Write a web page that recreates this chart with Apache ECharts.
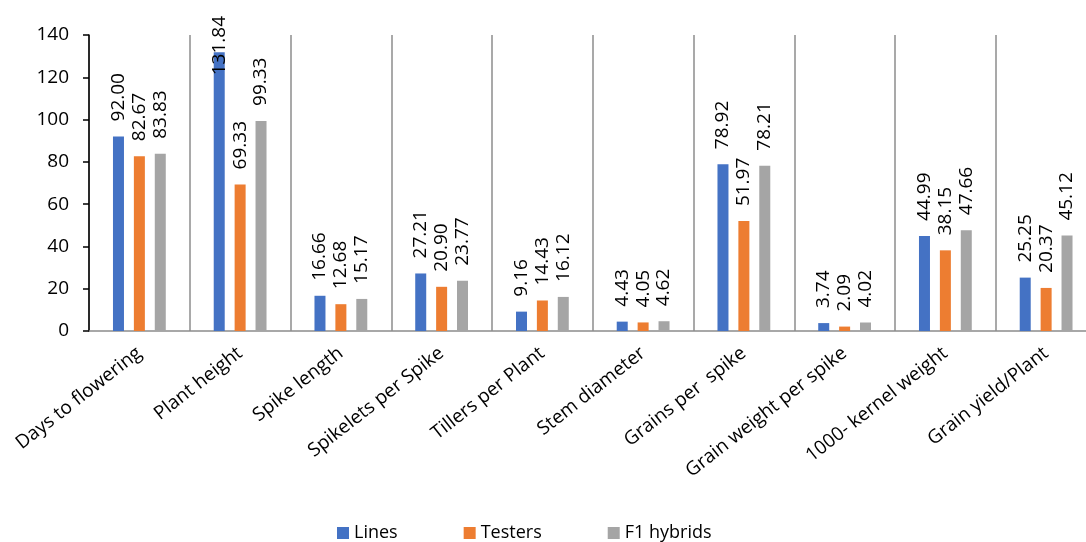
<!DOCTYPE html>
<html>
<head>
<meta charset="utf-8">
<script src="https://cdn.jsdelivr.net/npm/echarts@6/dist/echarts.min.js"></script>
<style>html,body{margin:0;padding:0;background:#fff;overflow:hidden}#c{width:1100px;height:542px}</style>
</head>
<body>
<div id="c"></div>
<script>
const categories = ["Days to flowering","Plant height","Spike length","Spikelets per Spike","Tillers per Plant","Stem diameter","Grains per  spike","Grain weight per spike","1000- kernel weight","Grain yield/Plant"];
const seriesNames = ["Lines","Testers","F1 hybrids"];
const lines = [92.00,131.84,16.66,27.21,9.16,4.43,78.92,3.74,44.99,25.25];
const testers = [82.67,69.33,12.68,20.90,14.43,4.05,51.97,2.09,38.15,20.37];
const hybrids = [83.83,99.33,15.17,23.77,16.12,4.62,78.21,4.02,47.66,45.12];
const yTicks = {min:0, max:140, interval:20};
const colors = ["#4472C4","#ED7D31","#A5A5A5"];

const FONT = "Open Sans";
const chart = echarts.init(document.getElementById('c'));
const baseLabel = {
  show: true, position: 'top', distance: 15, rotate: 90, align: 'left', verticalAlign: 'middle',
  fontFamily: FONT, fontSize: 19, color: '#000',
  formatter: p => p.value.toFixed(2)
};
function mk(vals){
  // the tallest bar's label is pulled down to fit inside the chart, as in the reference
  return vals.map(v => v > 130 ? {value: v, label: {position: [5.5, 23]}} : v);
}
const data = [lines, testers, hybrids];
chart.setOption({
  animation: false,
  grid: {left: 89, top: 35, width: 1007.5, height: 296, containLabel: false},
  legend: {
    data: seriesNames, left: 337, top: 524, padding: 0, itemWidth: 12, itemHeight: 12, itemGap: 66,
    icon: 'rect', textStyle: {fontFamily: FONT, fontSize: 18, color: '#000'}
  },
  xAxis: {
    type: 'category', data: categories, boundaryGap: true,
    axisLine: {lineStyle: {color: '#8c8c8c', width: 1.5}},
    axisTick: {show: false},
    splitLine: {show: true, interval: 0, lineStyle: {color: '#8c8c8c', width: 1.5}},
    axisLabel: {interval: 0, rotate: 38, margin: 20, fontFamily: FONT, fontSize: 19, color: '#000'}
  },
  yAxis: {
    type: 'value', min: yTicks.min, max: yTicks.max, interval: yTicks.interval,
    axisLine: {show: true, lineStyle: {color: '#000', width: 1.5}},
    axisTick: {show: true, length: 6, lineStyle: {color: '#000', width: 1.5}},
    splitLine: {show: false},
    axisLabel: {margin: 20, fontFamily: FONT, fontSize: 19, color: '#000'}
  },
  series: seriesNames.map((n, i) => ({
    name: n, type: 'bar', data: mk(data[i]), barWidth: 11, barGap: '90%',
    itemStyle: {color: colors[i]}, label: baseLabel
  }))
});
</script>
</body>
</html>
